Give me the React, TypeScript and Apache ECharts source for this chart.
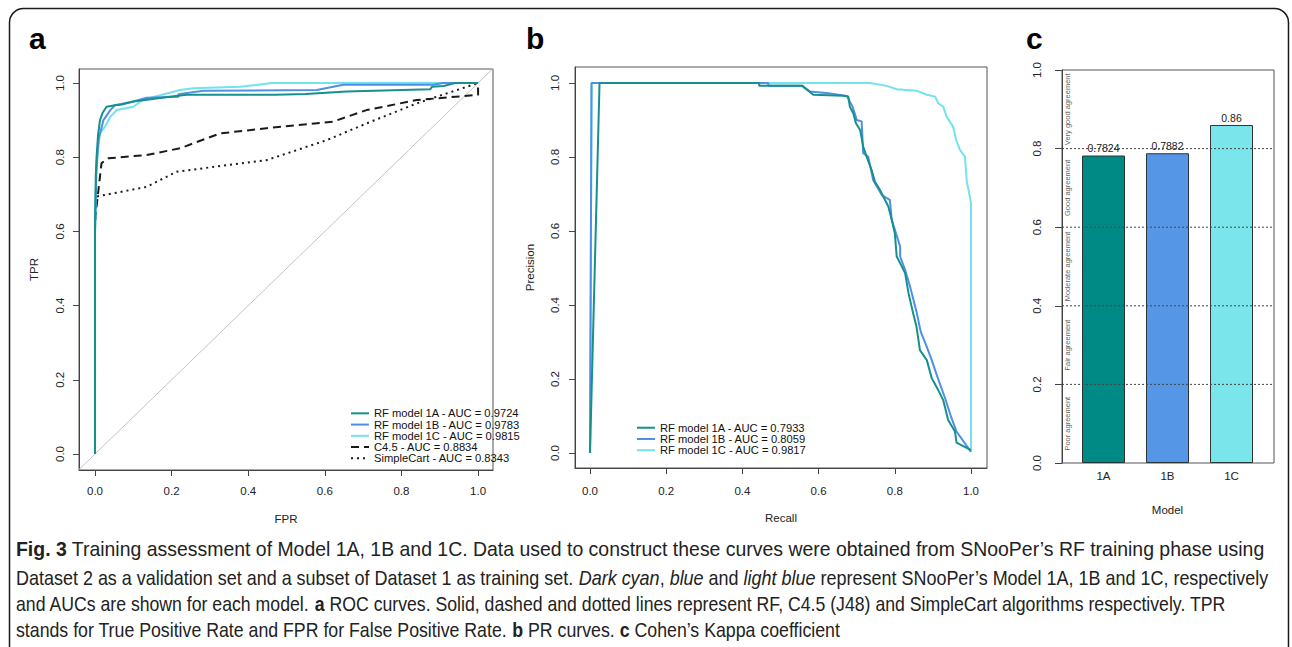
import React, { useEffect, useRef } from 'react';
import * as echarts from 'echarts';

const FONT = '"Liberation Sans", Arial, Helvetica, sans-serif';

// ---------- Panel a: ROC curves (FPR, TPR) ----------
const rocNames = [
  'RF model 1A - AUC = 0.9724',
  'RF model 1B - AUC = 0.9783',
  'RF model 1C - AUC = 0.9815',
  'C4.5 - AUC = 0.8834',
  'SimpleCart - AUC = 0.8343',
];
const roc1A = [[0,0],[0,0.6],[0.002,0.75],[0.004,0.8],[0.008,0.86],[0.013,0.9],[0.02,0.92],[0.03,0.936],[0.052,0.94],[0.07,0.942],[0.1,0.95],[0.16,0.958],[0.21,0.965],[0.24,0.968],[0.47,0.968],[0.55,0.97],[0.657,0.977],[0.875,0.983],[0.88,0.99],[0.91,0.992],[0.93,0.997],[0.94,1.0],[1,1]];
const roc1B = [[0,0],[0,0.6],[0.003,0.75],[0.006,0.8],[0.009,0.846],[0.022,0.9],[0.04,0.927],[0.052,0.94],[0.1,0.95],[0.135,0.96],[0.218,0.963],[0.218,0.97],[0.283,0.979],[0.579,0.981],[0.648,0.995],[0.883,0.995],[0.909,1.0],[1,1]];
const roc1C = [[0,0],[0,0.6],[0.002,0.7],[0.004,0.783],[0.013,0.865],[0.026,0.882],[0.04,0.909],[0.057,0.927],[0.1,0.936],[0.126,0.955],[0.222,0.981],[0.257,0.986],[0.379,0.99],[0.457,0.999],[0.46,1.0],[1,1]];
const rocC45 = [[0,0],[0,0.63],[0.017,0.784],[0.035,0.797],[0.135,0.806],[0.222,0.824],[0.326,0.864],[0.448,0.878],[0.622,0.896],[0.709,0.927],[0.84,0.954],[1,0.968],[1,1]];
const rocCart = [[0,0],[0,0.62],[0.004,0.694],[0.135,0.72],[0.213,0.761],[0.448,0.792],[0.605,0.846],[0.709,0.891],[0.84,0.945],[1,1]];
const diagonal = [[-0.1,-0.1],[1.1,1.1]];

// ---------- Panel b: PR curves (Recall, Precision) ----------
const prNames = [
  'RF model 1A - AUC = 0.7933',
  'RF model 1B - AUC = 0.8059',
  'RF model 1C - AUC = 0.9817',
];
const pr1A = [[0,0],[0.025,1.0],[0.444,1.0],[0.444,0.992],[0.558,0.992],[0.568,0.983],[0.586,0.968],[0.665,0.965],[0.678,0.963],[0.682,0.936],[0.691,0.918],[0.698,0.891],[0.709,0.873],[0.717,0.828],[0.726,0.801],[0.739,0.765],[0.748,0.733],[0.761,0.711],[0.783,0.666],[0.792,0.63],[0.8,0.594],[0.805,0.531],[0.814,0.513],[0.827,0.486],[0.836,0.432],[0.848,0.378],[0.857,0.341],[0.866,0.278],[0.884,0.251],[0.897,0.202],[0.914,0.17],[0.927,0.143],[0.94,0.089],[0.958,0.058],[0.962,0.028],[1.0,0.008]];
const pr1B = [[0,0],[0.004,1.0],[0.468,1.0],[0.468,0.992],[0.556,0.992],[0.577,0.977],[0.626,0.972],[0.674,0.965],[0.689,0.936],[0.7,0.9],[0.713,0.896],[0.717,0.81],[0.73,0.801],[0.743,0.738],[0.766,0.697],[0.787,0.684],[0.792,0.63],[0.814,0.558],[0.814,0.531],[0.827,0.495],[0.84,0.45],[0.857,0.382],[0.868,0.328],[0.884,0.287],[0.897,0.251],[0.91,0.211],[0.932,0.148],[0.949,0.094],[0.962,0.058],[0.984,0.026],[1.0,0.003]];
const pr1C = [[0,0],[0.004,1.0],[0.735,1.0],[0.779,0.992],[0.805,0.983],[0.857,0.979],[0.884,0.968],[0.906,0.963],[0.914,0.945],[0.927,0.936],[0.936,0.909],[0.953,0.882],[0.961,0.846],[0.971,0.819],[0.984,0.801],[0.989,0.733],[0.997,0.693],[1.0,0.675],[1.0,0.004]];

// ---------- Panel c: Cohen's Kappa ----------
const models = ['1A', '1B', '1C'];
const kappa = [0.7824, 0.7882, 0.86];
const thresholds = [0.2, 0.4, 0.6, 0.8];
const agreementLabels = ['Poor agreement', 'Fair agreement', 'Moderate agreement', 'Good agreement', 'Very good agreement'];
const agreementCenters = [0.1, 0.3, 0.5, 0.7, 0.9];

const ticks = [0, 0.2, 0.4, 0.6, 0.8, 1.0];

const colors = { a: '#16908c', b: '#4f8fe6', c: '#72e3ec' };
const barColors = ['#008a85', '#5596e6', '#7ae5eb'];

const captionLines = [
  { t: '{b|Fig. 3} Training assessment of Model 1A, 1B and 1C. Data used to construct these curves were obtained from SNooPer\u2019s RF training phase using', y: 549, end: 1262 },
  { t: 'Dataset 2 as a validation set and a subset of Dataset 1 as training set. {i|Dark cyan}, {i|blue} and {i|light blue} represent SNooPer\u2019s Model 1A, 1B and 1C, respectively', y: 578, end: 1268 },
  { t: 'and AUCs are shown for each model. {b|a} ROC curves. Solid, dashed and dotted lines represent RF, C4.5 (J48) and SimpleCart algorithms respectively. TPR', y: 604, end: 1227 },
  { t: 'stands for True Positive Rate and FPR for False Positive Rate. {b|b} PR curves. {b|c} Cohen\u2019s Kappa coefficient', y: 630, end: 838 },
];

function valueAxis(gridIndex: number, min: number, max: number, isY: boolean, margin: number, name: string, nameGap: number) {
  return {
    type: 'value', gridIndex, min, max,
    axisLine: { show: true, onZero: false, lineStyle: { color: '#444', width: 1 } },
    axisTick: { show: true, inside: false, length: 6, customValues: ticks, lineStyle: { color: '#444' } },
    axisLabel: {
      customValues: ticks, formatter: (v: number) => v.toFixed(1), rotate: isY ? 90 : 0, margin,
      fontSize: 11.5, color: '#222', fontFamily: FONT,
    },
    splitLine: { show: false },
    name, nameLocation: 'middle', nameGap,
    nameTextStyle: { fontSize: 11.5, color: '#222', fontFamily: FONT },
  };
}

function lineSeries(name: string, data: number[][], color: string, axis: number, type: any = 'solid') {
  return {
    type: 'line', name, data, xAxisIndex: axis, yAxisIndex: axis,
    symbol: 'none', showSymbol: false, silent: true,
    lineStyle: { color, width: 2, type },
    itemStyle: { color },
  };
}

const legendBase = {
  orient: 'vertical', itemWidth: 18, itemHeight: 11.25, itemGap: 0, padding: 0, selectedMode: false,
  itemStyle: { opacity: 0 },
  textStyle: { fontSize: 11.2, lineHeight: 11.25, color: '#111', fontFamily: FONT },
};

export default function App() {
  const ref = useRef<HTMLDivElement>(null);
  useEffect(() => {
    document.body.style.margin = '0';
    const chart = echarts.init(ref.current!, null, { renderer: 'svg' });

    const capSize = 20;
    const canvas = document.createElement('canvas');
    const ctx = canvas.getContext('2d')!;
    const captionGraphics = captionLines.map((ln) => {
      const plain = ln.t.replace(/\{[bi]\|([^}]*)\}/g, '$1');
      ctx.font = `${capSize}px ${FONT}`;
      const w = ctx.measureText(plain).width || 1;
      const start = 16;
      const s = (ln.end - start) / w;
      return {
        type: 'text', x: start, y: ln.y, scaleX: s, silent: true,
        style: {
          text: ln.t, fontSize: capSize, fontFamily: FONT, fill: '#222', verticalAlign: 'middle', align: 'left',
          rich: {
            b: { fontWeight: 'bold', fontSize: capSize, fontFamily: FONT, fill: '#222' },
            i: { fontStyle: 'italic', fontSize: capSize, fontFamily: FONT, fill: '#222' },
          },
        },
      };
    });

    const option: any = {
      animation: false,
      backgroundColor: '#fff',
      textStyle: { fontFamily: FONT },
      grid: [
        { left: 79, top: 69, width: 414, height: 401, show: true, borderColor: '#555', borderWidth: 1 },
        { left: 575, top: 67, width: 412, height: 401, show: true, borderColor: '#555', borderWidth: 1 },
        { left: 1062, top: 70, width: 212, height: 393, show: true, borderColor: '#555', borderWidth: 1 },
        { left: 1071.5, top: 70, width: 192, height: 393, show: false },
      ],
      xAxis: [
        valueAxis(0, -0.0418, 1.039, false, 15, 'FPR', 43),
        valueAxis(1, -0.0394, 1.042, false, 16.5, 'Recall', 44),
        { type: 'value', gridIndex: 2, min: 0, max: 1, show: false },
        {
          type: 'category', gridIndex: 3, data: models,
          axisLine: { show: false }, axisTick: { show: false },
          axisLabel: { margin: 7, fontSize: 11.5, color: '#222', fontFamily: FONT },
          name: 'Model', nameLocation: 'middle', nameGap: 41,
          nameTextStyle: { fontSize: 11.5, color: '#222', fontFamily: FONT },
        },
      ],
      yAxis: [
        valueAxis(0, -0.0431, 1.0377, true, 13.5, 'TPR', 39),
        valueAxis(1, -0.0405, 1.043, true, 14.5, 'Precision', 39.5),
        {
          type: 'value', gridIndex: 2, min: 0, max: 1, interval: 0.2,
          axisLine: { show: true, lineStyle: { color: '#444' } },
          axisTick: { show: true, length: 7, lineStyle: { color: '#444' } },
          axisLabel: { rotate: 90, margin: 19.5, fontSize: 11.5, color: '#222', fontFamily: FONT, formatter: (v: number) => v.toFixed(1) },
          splitLine: { show: false },
        },
        { type: 'value', gridIndex: 3, min: 0, max: 1, show: false },
      ],
      legend: [
        { ...legendBase, data: rocNames, left: 350, top: 407.7 },
        { ...legendBase, data: prNames, left: 636, top: 422.1 },
      ],
      series: [
        {
          type: 'line', name: 'diagonal', data: diagonal, xAxisIndex: 0, yAxisIndex: 0, symbol: 'none', silent: true,
          lineStyle: { color: '#c4c4c4', width: 1 }, clip: true,
        },
        lineSeries(rocNames[3], rocC45, '#1a1a1a', 0, [8, 5]),
        lineSeries(rocNames[4], rocCart, '#1a1a1a', 0, [2, 4]),
        lineSeries(rocNames[2], roc1C, colors.c, 0),
        lineSeries(rocNames[1], roc1B, colors.b, 0),
        lineSeries(rocNames[0], roc1A, colors.a, 0),

        lineSeries(prNames[2], pr1C, colors.c, 1),
        lineSeries(prNames[1], pr1B, colors.b, 1),
        lineSeries(prNames[0], pr1A, colors.a, 1),

        {
          type: 'bar', name: 'kappa', xAxisIndex: 3, yAxisIndex: 3, barWidth: 43, silent: true,
          data: kappa.map((v, i) => ({ value: v, itemStyle: { color: barColors[i] } })),
          itemStyle: { borderColor: '#2b3638', borderWidth: 1 },
          label: { show: true, position: 'top', distance: 2, fontSize: 10.5, color: '#222', fontFamily: FONT, formatter: (p: any) => String(p.value) },
        },
        ...thresholds.map((t) => ({
          type: 'line', name: 'thr' + t, xAxisIndex: 2, yAxisIndex: 2, symbol: 'none', silent: true, z: 5,
          data: [[0, t], [1, t]],
          lineStyle: { color: '#444', width: 1, type: [2, 2] },
        })),
        {
          type: 'scatter', name: 'agreement', xAxisIndex: 2, yAxisIndex: 2, symbolSize: 1, silent: true,
          itemStyle: { color: 'rgba(0,0,0,0)' },
          data: agreementLabels.map((n, i) => ({ name: n, value: [0.025, agreementCenters[i]] })),
          label: { show: true, position: 'inside', rotate: 90, formatter: (p: any) => p.name, fontSize: 7.5, color: '#333', fontFamily: FONT },
        },
      ],
      graphic: [
        {
          type: 'rect', silent: true,
          shape: { x: 9.5, y: 8.5, width: 1279, height: 720, r: 14 },
          style: { fill: 'none', stroke: '#1a1a1a', lineWidth: 1.5 },
        },
        { type: 'text', x: 29, y: 38, silent: true, style: { text: 'a', font: `bold 30px ${FONT}`, fill: '#000', verticalAlign: 'middle' } },
        { type: 'text', x: 526, y: 38, silent: true, style: { text: 'b', font: `bold 30px ${FONT}`, fill: '#000', verticalAlign: 'middle' } },
        { type: 'text', x: 1026, y: 38, silent: true, style: { text: 'c', font: `bold 30px ${FONT}`, fill: '#000', verticalAlign: 'middle' } },
        ...captionGraphics,
      ],
    };
    chart.setOption(option);
    return () => chart.dispose();
  }, []);
  return <div ref={ref} style={{ width: 1292, height: 647, background: '#fff' }} />;
}
